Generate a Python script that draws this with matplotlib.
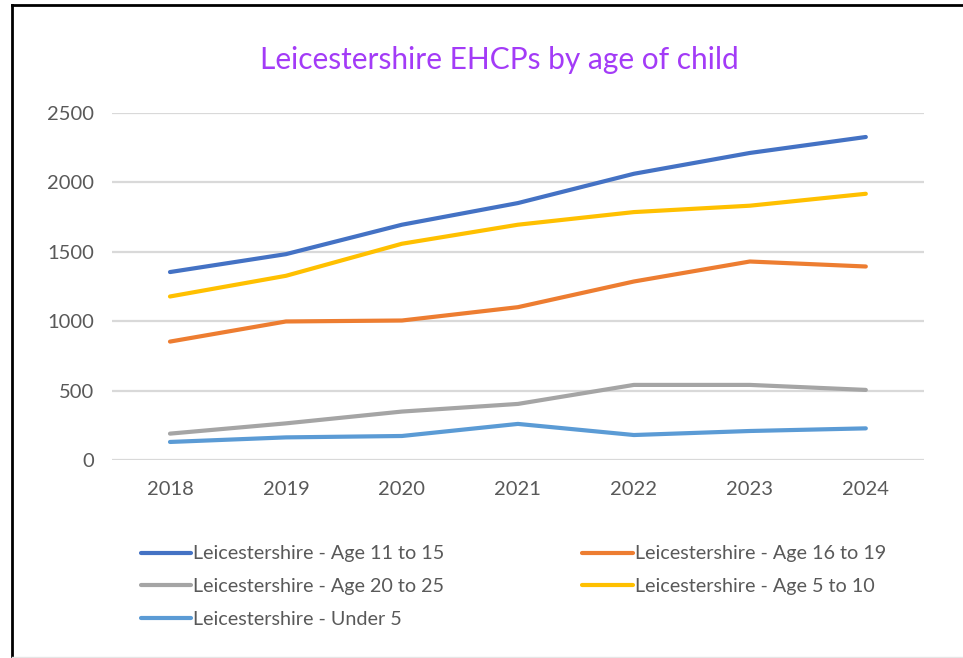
import matplotlib
matplotlib.use('Agg')
import matplotlib.pyplot as plt
from matplotlib.lines import Line2D

plt.rcParams['font.family'] = ['Lato', 'DejaVu Sans']

years = ['2018', '2019', '2020', '2021', '2022', '2023', '2024']

# EHCP counts
age_11_15 = [1354, 1483, 1695, 1851, 2062, 2212, 2327]
age_16_19 = [853, 998, 1005, 1101, 1286, 1430, 1394]
age_20_25 = [190, 264, 349, 404, 541, 541, 505]
age_5_10 = [1178, 1327, 1558, 1695, 1786, 1832, 1918]
under_5 = [130, 163, 173, 260, 180, 209, 228]

series = [
    ('Leicestershire - Age 11 to 15', age_11_15, '#4472C4'),
    ('Leicestershire - Age 16 to 19', age_16_19, '#ED7D31'),
    ('Leicestershire - Age 20 to 25', age_20_25, '#A5A5A5'),
    ('Leicestershire - Age 5 to 10', age_5_10, '#FFC000'),
    ('Leicestershire - Under 5', under_5, '#5B9BD5'),
]

fig = plt.figure(figsize=(9.63, 6.58), dpi=100)
ax = fig.add_axes([0.1163, 0.3009, 0.843, 0.5274])

x = list(range(len(years)))
lines = {}
for label, values, color in series:
    line, = ax.plot(x, values, color=color, lw=3, solid_capstyle='round', label=label)
    lines[label] = line

ax.set_xlim(-0.5, len(years) - 0.5)
ax.set_ylim(0, 2500)
ax.set_yticks(range(0, 2501, 500))
ax.set_xticks(x)
ax.set_xticklabels(years)
ax.yaxis.grid(True, color='#D9D9D9', lw=1.6)
ax.set_axisbelow(True)
for side in ['top', 'right', 'left', 'bottom']:
    ax.spines[side].set_visible(False)
ax.tick_params(axis='both', length=0, colors='#595959', labelsize=14.5)
ax.tick_params(axis='x', pad=15)
ax.tick_params(axis='y', pad=13)

fig.text(0.519, 0.909, 'Leicestershire EHCPs by age of child', color='#A33BF7',
         fontsize=21.5, ha='center', va='center')

# legend is filled column by column, so reorder to match the row layout
order = ['Leicestershire - Age 11 to 15', 'Leicestershire - Age 20 to 25', 'Leicestershire - Under 5',
         'Leicestershire - Age 16 to 19', 'Leicestershire - Age 5 to 10']
leg = fig.legend([lines[k] for k in order], order, ncol=2, loc='upper left',
                 bbox_to_anchor=(0.138, 0.183), frameon=False, fontsize=14.2,
                 handlelength=2.55, handletextpad=0.1, columnspacing=7.0,
                 labelspacing=0.8, labelcolor='#595959', borderaxespad=0)

# screenshot frame: dark top and left edges, faint bottom edge
fig.add_artist(Line2D([0.0125, 1.0], [0.993, 0.993], transform=fig.transFigure, color='black', lw=2))
fig.add_artist(Line2D([0.0125, 0.0125], [0.0, 0.993], transform=fig.transFigure, color='black', lw=2))
fig.add_artist(Line2D([0.0125, 1.0], [0.002, 0.002], transform=fig.transFigure, color='#E6E6E6', lw=1))

fig.savefig('out.png', dpi=100)
